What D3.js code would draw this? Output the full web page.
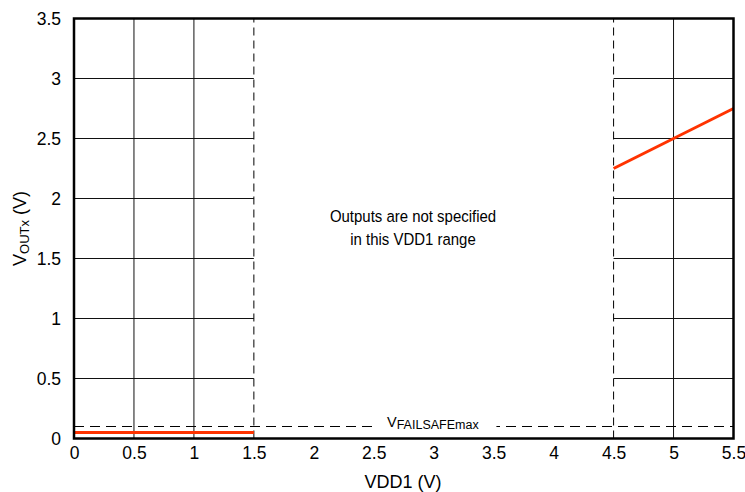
<!DOCTYPE html>
<html>
<head>
<meta charset="utf-8">
<script src="https://cdn.jsdelivr.net/npm/d3@7"></script>
<style>
  body { margin: 0; background: #fff; }
  svg { font-family: "Liberation Sans", Arial, sans-serif; }
</style>
</head>
<body>
<div id="chart"></div>
<script>
const xTicks = [0, 0.5, 1, 1.5, 2, 2.5, 3, 3.5, 4, 4.5, 5, 5.5];
const yTicks = [0, 0.5, 1, 1.5, 2, 2.5, 3, 3.5];
const lowSeries = [{ x: 0, y: 0.05 }, { x: 1.5, y: 0.05 }];
const highSeries = [{ x: 4.5, y: 2.25 }, { x: 5.5, y: 2.75 }];
const failsafeLevel = 0.1;
const unspecifiedRange = [1.5, 4.5];
const gridLeft = [0.5, 1];
const gridRight = [5];

let width = 745,
    height = 492,
    margin = { top: 18.5, right: 11.5, bottom: 53.5, left: 74 };

const svg = d3
    .select("#chart")
    .append("svg")
    .attr("width", width)
    .attr("height", height);

let x = d3.scaleLinear().domain([0, 5.5]).range([margin.left, width - margin.right]);
let y = d3.scaleLinear().domain([0, 3.5]).range([height - margin.bottom, margin.top]);

// grid only outside the unspecified band
let grid = svg.append("g").attr("stroke", "#111").attr("stroke-width", 1);
for (let v of yTicks.slice(1, -1)) {
    grid.append("line")
        .attr("x1", x(0)).attr("x2", x(unspecifiedRange[0]))
        .attr("y1", y(v)).attr("y2", y(v));
    grid.append("line")
        .attr("x1", x(unspecifiedRange[1])).attr("x2", x(5.5))
        .attr("y1", y(v)).attr("y2", y(v));
}
for (let v of gridLeft.concat(gridRight)) {
    grid.append("line")
        .attr("x1", x(v)).attr("x2", x(v))
        .attr("y1", y(0)).attr("y2", y(3.5));
}

// dashed boundaries
for (let v of unspecifiedRange) {
    svg.append("line")
        .attr("x1", x(v)).attr("x2", x(v))
        .attr("y1", y(0)).attr("y2", y(3.5))
        .attr("stroke", "#000")
        .attr("stroke-dasharray", "8,5");
}
svg.append("line")
    .attr("x1", x(0)).attr("x2", x(5.5))
    .attr("y1", y(failsafeLevel)).attr("y2", y(failsafeLevel))
    .attr("stroke", "#000")
    .attr("stroke-dasharray", "10,6");

// failsafe label with white backing
let lbl = svg.append("text")
    .attr("x", 387)
    .attr("y", y(failsafeLevel) + 0.5)
    .attr("font-size", 14.5)
    .attr("fill", "#000");
lbl.append("tspan").text("V");
lbl.append("tspan").attr("font-size", 12.5).attr("dy", 2).text("FAILSAFEmax");
let bb = lbl.node().getBBox();
svg.insert("rect", "text")
    .attr("x", bb.x - 11).attr("y", y(failsafeLevel) - 3)
    .attr("width", bb.width + 28).attr("height", 6)
    .attr("fill", "#fff");

// series
let line = d3.line().x((d) => x(d.x)).y((d) => y(d.y));
for (let s of [lowSeries, highSeries]) {
    svg.append("path")
        .datum(s)
        .attr("fill", "none")
        .attr("stroke", "#ff3300")
        .attr("stroke-width", 3)
        .attr("d", line);
}

// frame
svg.append("rect")
    .attr("x", x(0)).attr("y", y(3.5))
    .attr("width", x(5.5) - x(0)).attr("height", y(0) - y(3.5))
    .attr("fill", "none")
    .attr("stroke", "#000")
    .attr("stroke-width", 2.5);

// axes
svg.append("g")
    .attr("transform", `translate(0,${y(0)})`)
    .call(d3.axisBottom(x).tickValues(xTicks).tickSize(0).tickPadding(8.5).tickFormat(d3.format("")))
    .call((g) => g.select(".domain").remove())
    .call((g) => g.selectAll("text").attr("font-size", 17.5).attr("font-family", "Liberation Sans, Arial, sans-serif").attr("fill", "#000"));

svg.append("g")
    .attr("transform", `translate(${x(0)},0)`)
    .call(d3.axisLeft(y).tickValues(yTicks).tickSize(0).tickPadding(13).tickFormat(d3.format("")))
    .call((g) => g.select(".domain").remove())
    .call((g) => g.selectAll("text").attr("font-size", 17.5).attr("font-family", "Liberation Sans, Arial, sans-serif").attr("fill", "#000"));

// axis titles
svg.append("text")
    .attr("x", 403)
    .attr("y", 488)
    .attr("text-anchor", "middle")
    .attr("font-size", 18)
    .text("VDD1 (V)");

let yt = svg.append("text")
    .attr("transform", `translate(26,${(y(0) + y(3.5)) / 2}) rotate(-90)`)
    .attr("text-anchor", "middle")
    .attr("font-size", 18);
yt.append("tspan").text("V");
yt.append("tspan").attr("font-size", 13).attr("dy", 3).text("OUTx");
yt.append("tspan").attr("dy", -3).text(" (V)");

// middle note (slightly condensed like the source)
let note = svg.append("text")
    .attr("transform", "translate(413,0) scale(0.88,1)")
    .attr("text-anchor", "middle")
    .attr("font-size", 17);
note.append("tspan").attr("x", 0).attr("y", 222.5).text("Outputs are not specified");
note.append("tspan").attr("x", 0).attr("y", 245.5).text("in this VDD1 range");
</script>
</body>
</html>
